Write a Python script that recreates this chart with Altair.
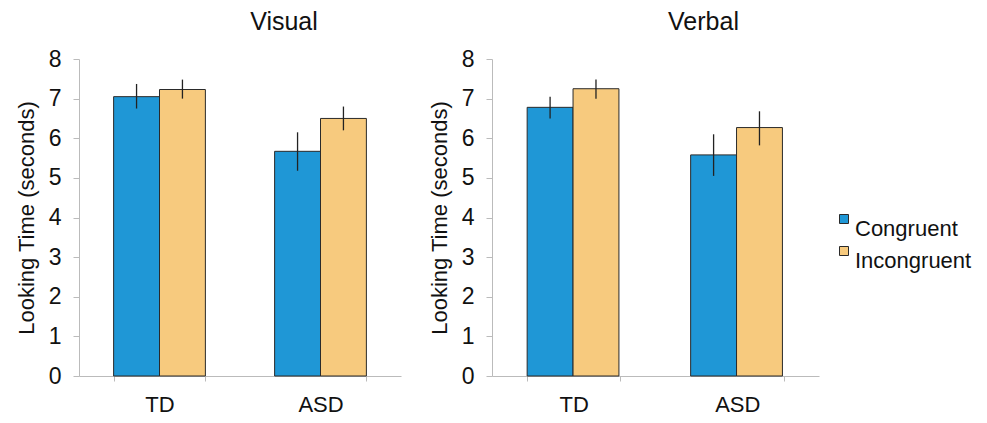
import altair as alt
import pandas as pd

groups = ["TD", "ASD"]
conditions = ["Congruent", "Incongruent"]
colors = ["#1F97D6", "#F7CA7E"]

# order: TD-Congruent, TD-Incongruent, ASD-Congruent, ASD-Incongruent
visual_means = [7.05, 7.23, 5.67, 6.50]
visual_lo = [6.75, 7.00, 5.18, 6.20]
visual_hi = [7.37, 7.48, 6.15, 6.80]

verbal_means = [6.78, 7.25, 5.58, 6.27]
verbal_lo = [6.50, 7.00, 5.05, 5.82]
verbal_hi = [7.05, 7.48, 6.10, 6.68]

rows_group = ["TD", "TD", "ASD", "ASD"]
rows_cond = ["Congruent", "Incongruent", "Congruent", "Incongruent"]
y_ticks = [0, 1, 2, 3, 4, 5, 6, 7, 8]

FONT = "Liberation Sans"


def make_df(means, lo, hi):
    return pd.DataFrame({
        "group": rows_group,
        "condition": rows_cond,
        "value": means,
        "lo": lo,
        "hi": hi,
    })


def y_axis():
    return alt.Axis(
        title="Looking Time (seconds)",
        titleFontSize=22,
        titleFontWeight="normal",
        titleFont=FONT,
        titleColor="#111",
        titlePadding=10,
        values=y_ticks,
        labelFontSize=23,
        labelFont=FONT,
        labelColor="#111",
        labelPadding=12,
        labelOverlap=False,
        tickSize=6,
        domainColor="#bbbbbb",
        tickColor="#bbbbbb",
        grid=False,
    )


def panel(name, df, dx, width):
    base = alt.Chart(df).encode(
        x=alt.X(
            "group:N",
            sort=groups,
            scale=alt.Scale(paddingInner=0.43, paddingOuter=0.215),
            axis=alt.Axis(
                title=None,
                labelAngle=0,
                tickBand="extent",
                labelPadding=13,
                tickSize=5,
                labelFontSize=22,
                labelFont=FONT,
                labelColor="#111",
                domainColor="#bbbbbb",
                tickColor="#bbbbbb",
                grid=False,
            ),
        ),
        xOffset=alt.XOffset(
            "condition:N",
            sort=conditions,
            scale=alt.Scale(paddingInner=0, paddingOuter=0),
        ),
    )
    bars = base.mark_bar(stroke="#2a2a2a", strokeWidth=1).encode(
        y=alt.Y("value:Q", scale=alt.Scale(domain=[0, 8]), axis=y_axis()),
        color=alt.Color(
            "condition:N",
            scale=alt.Scale(domain=conditions, range=colors),
            legend=alt.Legend(title=None),
        ),
    )
    errs = base.mark_rule(color="#222", strokeWidth=1.3).encode(
        y=alt.Y("lo:Q", scale=alt.Scale(domain=[0, 8]), axis=y_axis()),
        y2="hi:Q",
    )
    return alt.layer(bars, errs).properties(
        width=width,
        height=317,
        title=alt.Title(
            name,
            fontSize=25,
            fontWeight="normal",
            font=FONT,
            color="#111",
            dx=dx,
            offset=13,
        ),
    )


left = panel("Visual", make_df(visual_means, visual_lo, visual_hi), 44, 322)
right = panel("Verbal", make_df(verbal_means, verbal_lo, verbal_hi), 48, 327)

chart = alt.hconcat(left, right, spacing=27).properties(
    padding={"left": 7, "top": 2, "right": 0, "bottom": 0}
).configure_view(stroke=None).configure_legend(
    orient="none",
    legendX=754,
    legendY=149,
    labelFontSize=22,
    labelFont=FONT,
    labelColor="#111",
    labelBaseline="top",
    symbolType="square",
    symbolSize=81,
    symbolStrokeColor="#2a2a2a",
    symbolStrokeWidth=1,
    rowPadding=0,
    labelOffset=0,
)

chart.save("out.html", embed_options={"renderer": "svg", "actions": False})
